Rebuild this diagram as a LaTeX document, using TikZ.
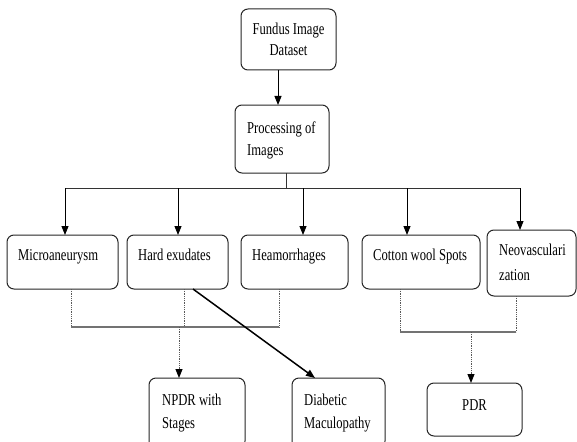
\documentclass[tikz,border=0pt]{standalone}
\usepackage{fontspec}
\setmainfont{Liberation Serif}[FakeStretch=0.76]
\usetikzlibrary{arrows.meta}
\begin{document}
\begin{tikzpicture}[x=1pt,y=-1pt,
  box/.style={draw=black!85, line width=1pt, rounded corners=7pt, inner sep=0pt, outer sep=0pt, fill=white},
  lbl/.style={anchor=base west, inner sep=0pt, align=left, font=\fontsize{16.6}{23}\selectfont},
  arr/.style={-{Triangle[length=9pt,width=7pt]}, line width=0.9pt, black},
  dot/.style={draw=black!65, line width=1pt, dash pattern=on 1pt off 0.8pt},
  darr/.style={dot, -{Triangle[length=9pt,width=7pt,color=black]}},
  hbar/.style={draw=black!55, line width=1.4pt},
  bus/.style={draw=black!80, line width=0.9pt}]
\useasboundingbox (0,0) rectangle (577,441);
% boxes
\node[box, minimum width=95pt, minimum height=61pt, align=center, font=\fontsize{16.6}{21}\selectfont] (fundus) at (288.5,39.5) {Fundus Image\\Dataset};
\node[box, minimum width=94pt, minimum height=68pt] (proc) at (282,139) {};
\node[box, minimum width=111pt, minimum height=54pt] (micro) at (62.5,262) {};
\node[box, minimum width=101pt, minimum height=54pt] (hard) at (177.5,262) {};
\node[box, minimum width=107pt, minimum height=54pt] (heam) at (294.5,262) {};
\node[box, minimum width=118pt, minimum height=54pt] (cotton) at (421,262) {};
\node[box, minimum width=89pt, minimum height=66pt] (neo) at (531.5,263) {};
\node[box, minimum width=96pt, minimum height=70pt] (npdr) at (197,413) {};
\node[box, minimum width=93pt, minimum height=70pt] (diab) at (338.5,413) {};
\node[box, minimum width=95pt, minimum height=53pt] (pdr) at (474.5,409.5) {};
% labels (base = baseline of the last line)
\node[lbl, font=\fontsize{16.6}{22}\selectfont] (proct) at (247,155) {Processing of\\Images};
\node[lbl] (microt) at (18,260) {Microaneurysm};
\node[lbl] (hardt) at (138,260) {Hard exudates};
\node[lbl] (heamt) at (252,260) {Heamorrhages};
\node[lbl] (cottont) at (373,260) {Cotton wool Spots};
\node[lbl, font=\fontsize{16.6}{25}\selectfont] (neot) at (499,280) {Neovasculari\\zation};
\node[lbl] (npdrt) at (162,428) {NPDR with\\Stages};
\node[lbl] (diabt) at (304,428) {Diabetic\\Maculopathy};
\node[lbl, anchor=base] (pdrt) at (474.5,410) {PDR};
% top connectors
\coordinate (a1) at (278,0);
\draw[arr] (a1 |- fundus.south) -- (a1 |- proc.north);
\coordinate (b0) at (286,188);
\draw[bus] (b0 |- proc.south) -- (b0);
\coordinate (bL) at (65,188);
\coordinate (bR) at (520,188);
\draw[bus] (bL) -- (bR);
\foreach \x/\n in {65/micro,178/hard,303/heam,407/cotton,520/neo}{
  \coordinate (t\n) at (\x,188);
  \draw[arr] (t\n) -- (t\n |- \n.north);
}
% left group
\coordinate (lm) at (71,327);
\coordinate (lh) at (184,327);
\coordinate (le) at (279,327);
\coordinate (ln) at (179,327);
\draw[dot] (lm |- micro.south) -- (lm);
\draw[dot] (lh |- hard.south) -- (lh);
\draw[dot] (le |- heam.south) -- (le);
\draw[hbar] (lm) -- (le);
\draw[darr] (ln) -- (ln |- npdr.north);
% right group
\coordinate (rc) at (400,332);
\coordinate (rn) at (516,332);
\coordinate (rp) at (471,332);
\draw[dot] (rc |- cotton.south) -- (rc);
\draw[dot] (rn |- neo.south) -- (rn);
\draw[hbar] (rc) -- (rn);
\draw[darr] (rp) -- (rp |- pdr.north);
% diagonal
\coordinate (dg) at (193,0);
\coordinate (dt) at (315,0);
\draw[arr, line width=1.5pt] (dg |- hard.south) -- (dt |- diab.north);
\end{tikzpicture}
\end{document}
